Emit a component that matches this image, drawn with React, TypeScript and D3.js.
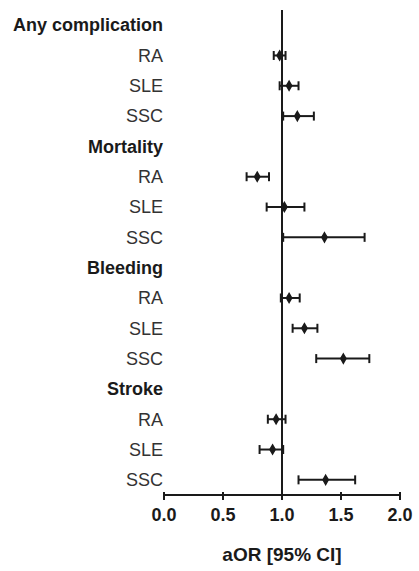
import React from "react";
import * as d3 from "d3";

const groups = ["Any complication", "Mortality", "Bleeding", "Stroke"];
const diseases = ["RA", "SLE", "SSC"];
// aOR, lower CI, upper CI per group (RA, SLE, SSC)
const aor = [
  [0.98, 1.06, 1.13],
  [0.79, 1.02, 1.36],
  [1.06, 1.19, 1.52],
  [0.95, 0.92, 1.37],
];
const lower = [
  [0.93, 0.98, 1.01],
  [0.70, 0.87, 1.01],
  [0.99, 1.09, 1.29],
  [0.88, 0.81, 1.14],
];
const upper = [
  [1.03, 1.14, 1.27],
  [0.89, 1.19, 1.70],
  [1.15, 1.30, 1.74],
  [1.03, 1.01, 1.62],
];
const xTicks = [0, 0.5, 1, 1.5, 2];
const xTitle = "aOR [95% CI]";

type Row = { key: string; label: string; header: boolean; g: number; d: number };

const rows: Row[] = [];
groups.forEach((g, gi) => {
  rows.push({ key: `h${gi}`, label: g, header: true, g: gi, d: -1 });
  diseases.forEach((d, di) => rows.push({ key: `r${gi}-${di}`, label: d, header: false, g: gi, d: di }));
});

const W = 419;
const H = 571;
const FONT = "'Liberation Sans', Arial, Helvetica, sans-serif";
const INK = "#1a1a1a";

export default function App() {
  const x = d3.scaleLinear().domain([0, 2]).range([164, 400]);
  const y = d3.scaleBand<string>().domain(rows.map((r) => r.key)).range([10, 495]).padding(0);
  const cy = (k: string) => (y(k) as number) + y.bandwidth() / 2;
  const axisY = 495;
  const diamond = d3.symbol().type(d3.symbolDiamond).size(24)() as string;
  const cap = 4.5;

  return (
    <svg
      width={W}
      height={H}
      style={{ position: "absolute", left: 0, top: 0, background: "#fff" }}
      fontFamily={FONT}
    >
      <rect x={0} y={0} width={W} height={H} fill="#fff" />
      {rows.map((r) => (
        <text
          key={`l-${r.key}`}
          x={163}
          y={cy(r.key)}
          dy="0.35em"
          textAnchor="end"
          fontSize={18}
          fontWeight={r.header ? "bold" : "normal"}
          fill={r.header ? INK : "#333"}
        >
          {r.label}
        </text>
      ))}
      <line x1={x(1)} x2={x(1)} y1={10} y2={axisY} stroke={INK} strokeWidth={2} />
      {rows
        .filter((r) => !r.header)
        .map((r) => {
          const yy = cy(r.key);
          const lo = x(lower[r.g][r.d]);
          const hi = x(upper[r.g][r.d]);
          const m = x(aor[r.g][r.d]);
          return (
            <g key={`e-${r.key}`} stroke={INK} strokeWidth={2}>
              <line x1={lo} x2={hi} y1={yy} y2={yy} />
              <line x1={lo} x2={lo} y1={yy - cap} y2={yy + cap} />
              <line x1={hi} x2={hi} y1={yy - cap} y2={yy + cap} />
              <path d={diamond} transform={`translate(${m},${yy})`} fill={INK} strokeWidth={1.5} />
            </g>
          );
        })}
      <line x1={x(0)} x2={x(2)} y1={axisY} y2={axisY} stroke={INK} strokeWidth={2} />
      {xTicks.map((t) => (
        <g key={`t-${t}`}>
          <line x1={x(t)} x2={x(t)} y1={axisY - 3} y2={axisY + 5} stroke={INK} strokeWidth={2} />
          <text x={x(t)} y={521} textAnchor="middle" fontSize={18} fontWeight="bold" fill={INK}>
            {d3.format(".1f")(t)}
          </text>
        </g>
      ))}
      <text x={x(1)} y={561} textAnchor="middle" fontSize={19} fontWeight="bold" fill={INK}>
        {xTitle}
      </text>
    </svg>
  );
}
